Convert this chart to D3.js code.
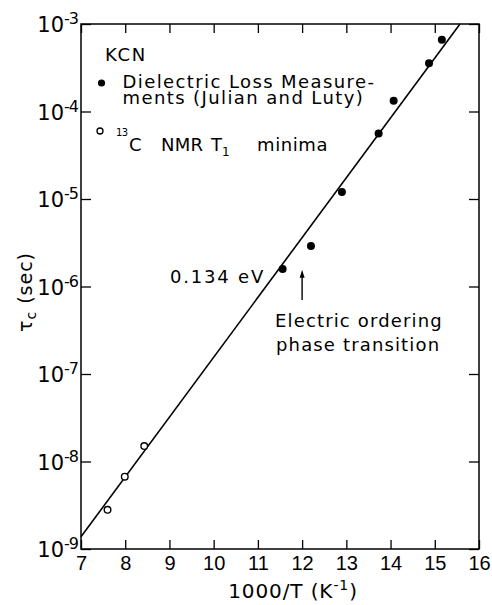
<!DOCTYPE html>
<html>
<head>
<meta charset="utf-8">
<script src="https://cdn.jsdelivr.net/npm/d3@7"></script>
<style>
  body { margin: 0; background: #fff; }
  svg { display: block; font-family: "DejaVu Sans", sans-serif; }
  .axis line { stroke: #000; stroke-width: 1.3; }
  .axis text { font-size: 20px; fill: #000; }
</style>
</head>
<body>
<div id="chart"></div>
<script>
// KCN relaxation time vs inverse temperature

// x axis ticks (1000/T, K^-1) and y decades (tau_c, sec)
const xTicks = [7, 8, 9, 10, 11, 12, 13, 14, 15, 16];
const yExps = [-3, -4, -5, -6, -7, -8, -9];

// dielectric loss (Julian and Luty), filled dots
const dlX = [11.56, 12.20, 12.90, 13.73, 14.07, 14.87, 15.16];
const dlY = [1.58e-6, 2.9e-6, 1.2e-5, 5.6e-5, 1.33e-4, 3.55e-4, 6.6e-4];

// 13C NMR T1 minima, open circles
const nmrX = [7.60, 7.99, 8.43];
const nmrY = [2.8e-9, 6.7e-9, 1.5e-8];

// fitted 0.134 eV line, end points
const fitX = [7, 15.57];
const fitY = [1.38e-9, 1e-3];

// phase transition marker
const arrowX = 12;
const arrowY = [7.0e-7, 1.55e-6];

(function(){

	const svgWidth = 492, svgHeight = 605;
	const margin = { top: 24, right: 13, bottom: 56, left: 81 };
	const width = svgWidth - margin.left - margin.right;
	const height = svgHeight - margin.top - margin.bottom;

	const svg = d3.select("#chart").append("svg")
		.attr("width", svgWidth).attr("height", svgHeight);

	const g = svg.append("g").attr("transform", `translate(${margin.left}, ${margin.top})`);

	const x = d3.scaleLinear().domain([7, 16]).range([0, width]);
	const y = d3.scaleLog().domain([1e-9, 1e-3]).range([height, 0]);
	const yTicks = yExps.map(e => Math.pow(10, e));

	// axes, ticks pointing inward
	g.append("g").attr("class", "axis").attr("transform", `translate(0, ${height})`)
		.call(d3.axisBottom(x).tickValues(xTicks).tickSize(-9).tickPadding(7).tickFormat(d3.format("d")))
		.call(a => a.select(".domain").remove());
	g.append("g").attr("class", "axis")
		.call(d3.axisTop(x).tickValues(xTicks).tickSize(-9).tickFormat(""))
		.call(a => a.select(".domain").remove());
	g.append("g").attr("class", "axis")
		.call(d3.axisLeft(y).tickValues(yTicks).tickSize(-10).tickFormat(""))
		.call(a => a.select(".domain").remove());
	g.append("g").attr("class", "axis").attr("transform", `translate(${width}, 0)`)
		.call(d3.axisRight(y).tickValues(yTicks).tickSize(-10).tickFormat(""))
		.call(a => a.select(".domain").remove());

	g.append("rect").attr("width", width).attr("height", height)
		.attr("fill", "none").attr("stroke", "#000").attr("stroke-width", 1.5);

	// y tick labels 10^n
	yTicks.forEach(function(v, i){
		const t = g.append("text").attr("x", -3).attr("y", y(v) + 8)
			.attr("text-anchor", "end").attr("font-size", 21);
		t.append("tspan").text("10");
		t.append("tspan").attr("dy", -8).attr("font-size", 16).attr("letter-spacing", -1).text(yExps[i]);
	});

	// fitted line
	const line = d3.line().x(d => x(d[0])).y(d => y(d[1]));
	g.append("path").datum(d3.zip(fitX, fitY)).attr("d", line)
		.attr("fill", "none").attr("stroke", "#000").attr("stroke-width", 1.6);

	// data points
	g.selectAll(".dl").data(d3.zip(dlX, dlY)).join("circle").attr("class", "dl")
		.attr("cx", d => x(d[0])).attr("cy", d => y(d[1])).attr("r", 4).attr("fill", "#000");
	g.selectAll(".nmr").data(d3.zip(nmrX, nmrY)).join("circle").attr("class", "nmr")
		.attr("cx", d => x(d[0])).attr("cy", d => y(d[1])).attr("r", 3.3)
		.attr("fill", "#fff").attr("stroke", "#000").attr("stroke-width", 1.4);

	// arrow
	const ax = x(arrowX), ay0 = y(arrowY[0]), ay1 = y(arrowY[1]);
	g.append("line").attr("x1", ax).attr("x2", ax).attr("y1", ay0).attr("y2", ay1 + 5)
		.attr("stroke", "#000").attr("stroke-width", 1.4);
	g.append("path").attr("d", `M${ax},${ay1} L${ax - 2.5},${ay1 + 8} L${ax + 2.5},${ay1 + 8} Z`).attr("fill", "#000");

	// annotations
	const txt = (gx, gy, s, size, ls) => svg.append("text").attr("x", gx).attr("y", gy)
		.attr("font-size", size).attr("letter-spacing", ls).text(s);

	txt(275, 327, "Electric ordering", 18, 1.15);
	txt(276, 351, "phase transition", 18, 1.15);
	txt(170, 283, "0.134 eV", 18, 1.8);

	// legend
	txt(105, 61, "KCN", 18, 1.7);
	svg.append("circle").attr("cx", 101.5).attr("cy", 83).attr("r", 3.6).attr("fill", "#000");
	txt(122.5, 88, "Dielectric Loss Measure-", 18, 1.4);
	txt(122.5, 104, "ments (Julian and Luty)", 18, 1.4);
	svg.append("circle").attr("cx", 100).attr("cy", 131).attr("r", 3)
		.attr("fill", "#fff").attr("stroke", "#000").attr("stroke-width", 1.3);
	txt(116, 136, "13", 10, -0.5);
	txt(129, 151, "C", 18, 0);
	txt(161, 151, "NMR", 18, 0.3);
	txt(211, 151, "T", 18, 0);
	txt(222, 156, "1", 12, 0);
	txt(257, 151, "minima", 18, 0.6);

	// axis titles
	const xl = svg.append("text").attr("x", margin.left + width / 2 + 13).attr("y", 598)
		.attr("text-anchor", "middle").attr("font-size", 20).attr("letter-spacing", 0.9);
	xl.append("tspan").text("1000/T (K");
	xl.append("tspan").attr("dy", -8).attr("font-size", 14).text("-1");
	xl.append("tspan").attr("dy", 8).text(")");

	const yl = svg.append("text").attr("transform", "translate(32, 292) rotate(-90)")
		.attr("text-anchor", "middle").attr("font-size", 19).attr("letter-spacing", 1);
	yl.append("tspan").text("τ");
	yl.append("tspan").attr("dy", 4).attr("font-size", 14).text("c");
	yl.append("tspan").attr("dy", -4).text(" (sec)");

})();
</script>
</body>
</html>
